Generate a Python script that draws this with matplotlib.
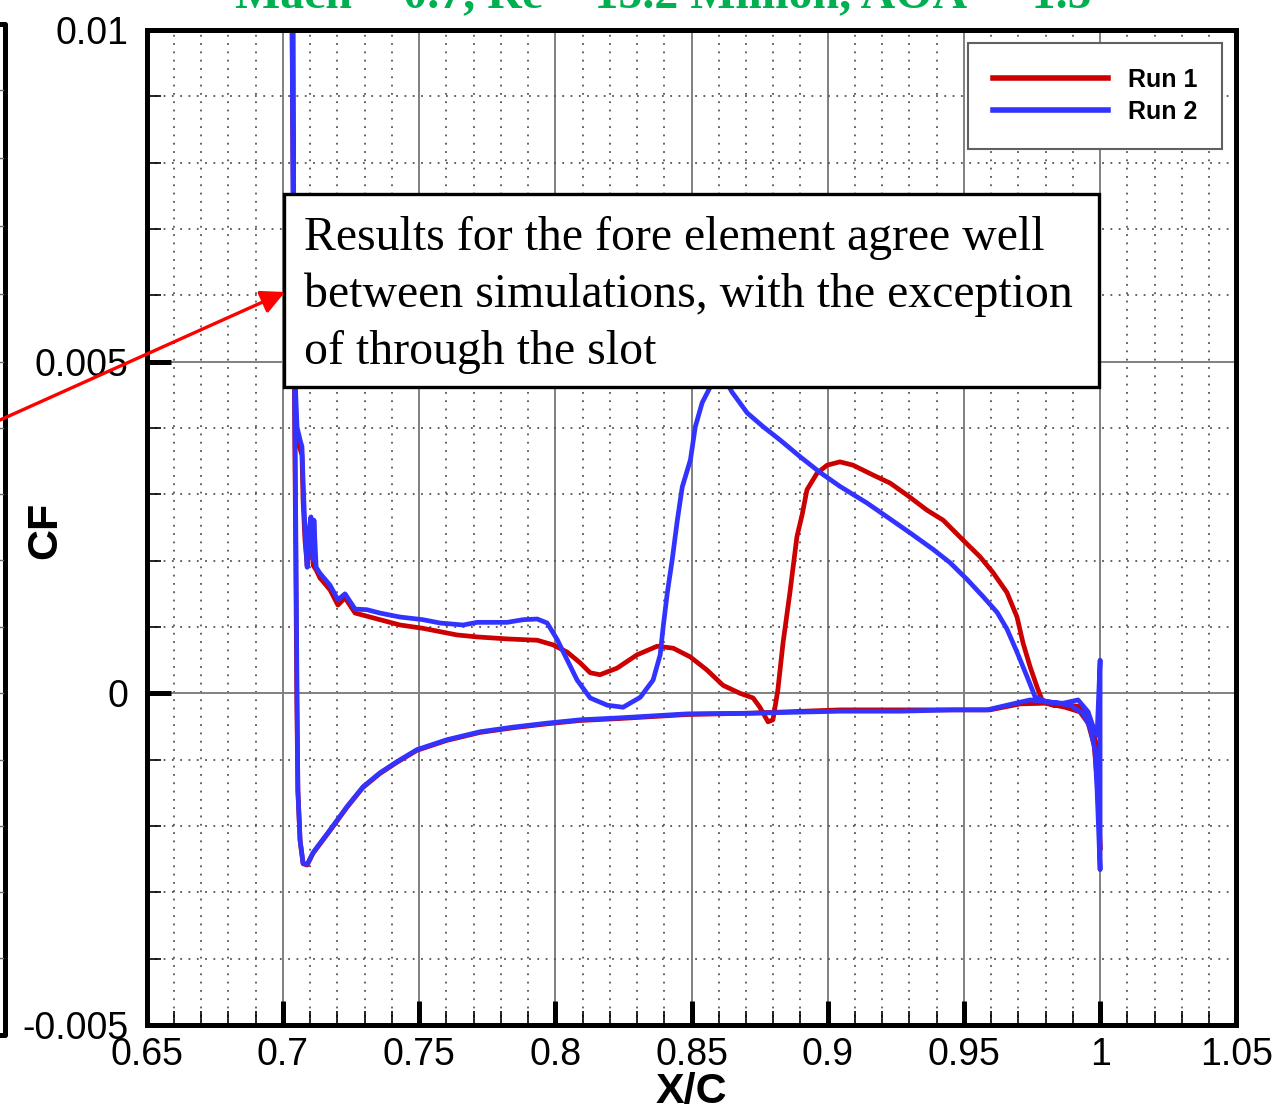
import numpy as np
import matplotlib
matplotlib.use("Agg")
import matplotlib.pyplot as plt
from matplotlib.lines import Line2D
from matplotlib.patches import Rectangle, FancyArrowPatch
from matplotlib.ticker import MultipleLocator

plt.rcParams['font.family'] = 'Liberation Sans'

W, H = 1288, 1111

# Run 1 skin friction, fore element: upper surface LE -> TE, then lower surface TE -> LE
run1_x = [0.7033, 0.7041, 0.7048, 0.7059, 0.7070, 0.7074, 0.7081, 0.7089, 0.7096, 0.7103,
          0.7111, 0.7122, 0.7136, 0.7173, 0.7202, 0.7228, 0.7265, 0.7320, 0.7393, 0.7430,
          0.7514, 0.7639, 0.7713, 0.7823, 0.7934, 0.7992, 0.8044, 0.8091, 0.8128, 0.8164,
          0.8227, 0.8300, 0.8374, 0.8433, 0.8495, 0.8557, 0.8616, 0.8678, 0.8726, 0.8751,
          0.8781, 0.8799, 0.8817, 0.8836, 0.8861, 0.8887, 0.8906, 0.8924, 0.8961, 0.8998,
          0.9045, 0.9093, 0.9167, 0.9229, 0.9291, 0.9365, 0.9424, 0.9497, 0.9559, 0.9607,
          0.9658, 0.9695, 0.9717, 0.9743, 0.9769, 0.9787, 0.9827, 0.9890, 0.9926, 0.9952,
          0.9974, 0.9989, 0.9996, 1.0000,
          0.9996, 0.9989, 0.9978, 0.9956, 0.9926, 0.9871, 0.9798, 0.9706, 0.9596, 0.9449,
          0.9045, 0.8715, 0.8484, 0.8238, 0.8091, 0.7970, 0.7845, 0.7724, 0.7602, 0.7492,
          0.7419, 0.7356, 0.7294, 0.7235, 0.7173, 0.7111, 0.7089, 0.7074, 0.7063, 0.7055,
          0.7051, 0.7047, 0.7043, 0.7040, 0.7036]
run1_y = [0.0105, 0.00593, 0.00401, 0.00374, 0.00359, 0.00291, 0.00231, 0.00193, 0.00223, 0.00253,
          0.00193, 0.00186, 0.00174, 0.00156, 0.00133, 0.00144, 0.00121, 0.00115, 0.00107, 0.00103,
          0.00098, 0.00088, 0.00085, 0.00082, 0.00080, 0.00073, 0.00062, 0.00046, 0.00031, 0.00028,
          0.00038, 0.00058, 0.00071, 0.00068, 0.00055, 0.00035, 0.00012, 0.0, -0.00007, -0.00021,
          -0.00043, -0.00040, 0.00005, 0.00076, 0.00151, 0.00236, 0.00269, 0.00307, 0.00332, 0.00344,
          0.00349, 0.00344, 0.00329, 0.00317, 0.00299, 0.00276, 0.00261, 0.00231, 0.00206, 0.00182,
          0.00152, 0.00115, 0.00076, 0.00040, 0.00009, -0.00010, -0.00018, -0.00018, -0.00020, -0.00030,
          -0.00051, -0.00086, -0.00161, -0.00236,
          -0.00191, -0.00131, -0.00078, -0.00045, -0.00028, -0.00021, -0.00015, -0.00016, -0.00025, -0.00025,
          -0.00025, -0.00030, -0.00032, -0.00038, -0.00041, -0.00046, -0.00052, -0.00059, -0.00071, -0.00086,
          -0.00104, -0.00121, -0.00142, -0.00172, -0.00207, -0.00241, -0.00259, -0.00257, -0.00222, -0.00147,
          -0.00010, 0.00216, 0.00412, 0.00593, 0.0105]

# Run 2 skin friction, same ordering
run2_x = [0.7033, 0.7037, 0.7045, 0.7052, 0.7063, 0.7070, 0.7074, 0.7081, 0.7089, 0.7096,
          0.7103, 0.7111, 0.7114, 0.7122, 0.7136, 0.7173, 0.7202, 0.7228, 0.7265, 0.7309,
          0.7356, 0.7430, 0.7514, 0.7577, 0.7661, 0.7713, 0.7823, 0.7882, 0.7934, 0.7970,
          0.8007, 0.8044, 0.8080, 0.8128, 0.8191, 0.8249, 0.8312, 0.8359, 0.8385, 0.8396,
          0.8411, 0.8429, 0.8448, 0.8466, 0.8496, 0.8514, 0.8539, 0.8569, 0.8598, 0.8624,
          0.8649, 0.8704, 0.8763, 0.8825, 0.8898, 0.8972, 0.9045, 0.9144, 0.9218, 0.9302,
          0.9387, 0.9449, 0.9511, 0.9570, 0.9622, 0.9658, 0.9695, 0.9732, 0.9761, 0.9805,
          0.9864, 0.9919, 0.9956, 0.9974, 0.9989, 1.0000, 1.0000,
          0.9996, 0.9989, 0.9981, 0.9963, 0.9937, 0.9890, 0.9816, 0.9743, 0.9658, 0.9585,
          0.9460, 0.9266, 0.9045, 0.8726, 0.8484, 0.8238, 0.8091, 0.7970, 0.7845, 0.7724,
          0.7602, 0.7492, 0.7419, 0.7356, 0.7294, 0.7235, 0.7173, 0.7111, 0.7089, 0.7074,
          0.7063, 0.7055, 0.7052, 0.7048, 0.7044, 0.7041, 0.7037]
run2_y = [0.0106, 0.00743, 0.00472, 0.00401, 0.00382, 0.00372, 0.00322, 0.00246, 0.00190, 0.00246,
          0.00266, 0.00201, 0.00261, 0.00190, 0.00181, 0.00163, 0.00141, 0.00150, 0.00127, 0.00126,
          0.00121, 0.00115, 0.00111, 0.00106, 0.00103, 0.00107, 0.00107, 0.00111, 0.00112, 0.00106,
          0.00081, 0.00050, 0.00020, -0.00007, -0.00018, -0.00021, -0.00006, 0.00020, 0.00058, 0.00100,
          0.00151, 0.00201, 0.00261, 0.00311, 0.00352, 0.00402, 0.00438, 0.00462, 0.00480, 0.00472,
          0.00454, 0.00423, 0.00402, 0.00382, 0.00357, 0.00333, 0.00312, 0.00287, 0.00266, 0.00242,
          0.00217, 0.00197, 0.00172, 0.00146, 0.00122, 0.00097, 0.00062, 0.00025, -0.00005, -0.00013,
          -0.00015, -0.00010, -0.00028, -0.00050, -0.00063, 0.00050, -0.00266,
          -0.00221, -0.00146, -0.00085, -0.00051, -0.00030, -0.00018, -0.00013, -0.00010, -0.00018, -0.00025,
          -0.00025, -0.00027, -0.00027, -0.00030, -0.00031, -0.00037, -0.00040, -0.00045, -0.00051, -0.00058,
          -0.00070, -0.00085, -0.00103, -0.00120, -0.00141, -0.00171, -0.00206, -0.00240, -0.00258, -0.00256,
          -0.00221, -0.00146, -0.00010, 0.00216, 0.00412, 0.00593, 0.0105]

x_ticks = [0.65, 0.7, 0.75, 0.8, 0.85, 0.9, 0.95, 1.0, 1.05]
x_tick_labels = ['0.65', '0.7', '0.75', '0.8', '0.85', '0.9', '0.95', '1', '1.05']
y_ticks = [-0.005, 0.0, 0.005, 0.01]
y_tick_labels = ['-0.005', '0', '0.005', '0.01']

title = 'Mach = 0.7, Re = 15.2 Million, AOA = -1.5'
note_lines = ['Results for the fore element agree well',
              'between simulations, with the exception',
              'of through the slot']


def fx(px):
    return px / W


def fy(py):
    return 1 - py / H


fig = plt.figure(figsize=(W / 100, H / 100), dpi=100)
ax = fig.add_axes([fx(146.7), fy(1024.9), 1089.6 / W, 994.8 / H])

ax.plot(run1_x, run1_y, color='#CC0000', lw=3.4, label='Run 1', zorder=3,
        solid_joinstyle='round')
ax.plot(run2_x, run2_y, color='#3333FF', lw=3.4, label='Run 2', zorder=4,
        solid_joinstyle='round')

ax.set_xlim(0.65, 1.05)
ax.set_ylim(-0.005, 0.01)
ax.set_xticks(x_ticks)
ax.set_xticklabels(x_tick_labels)
ax.set_yticks(y_ticks)
ax.set_yticklabels(y_tick_labels)
ax.xaxis.set_minor_locator(MultipleLocator(0.01))
ax.yaxis.set_minor_locator(MultipleLocator(0.001))

ax.grid(which='major', color='#808080', lw=1.4, ls='-', zorder=1)
ax.grid(which='minor', color='#555555', lw=1.3, ls=(0, (1, 3.6)), zorder=1)
ax.set_axisbelow(True)

ax.tick_params(which='major', direction='in', length=17, width=3.6, color='black',
               labelsize=27, top=False, right=False)
ax.tick_params(axis='y', which='major', pad=13)
ax.tick_params(axis='x', which='major', pad=9)
ax.tick_params(which='minor', direction='in', length=10, width=1.2, color='black',
               top=False, right=False)
for s in ax.spines.values():
    s.set_linewidth(3.6)
    s.set_zorder(6)

fig.text(fx(691), fy(1092), 'X/C', ha='center', va='center', fontsize=31, fontweight='bold')
fig.text(fx(45), fy(530), 'CF', ha='center', va='center', fontsize=31, fontweight='bold',
         rotation=90)

leg = ax.legend(loc='upper right', bbox_to_anchor=((1222 - 146.7) / 1089.6, 1 - (43 - 30.1) / 994.8),
                borderaxespad=0, fancybox=False, edgecolor='#606060', framealpha=1,
                prop=dict(family='Liberation Sans', weight='bold', size=18),
                handlelength=4.6, handletextpad=0.8, labelspacing=0.3, borderpad=1.0)
leg.get_frame().set_linewidth(1.5)
for h in leg.get_lines():
    h.set_linewidth(4)
leg.set_zorder(7)

# title sits partly above the canvas edge
fig.text(fx(663), fy(7), title, ha='center', va='baseline', fontsize=34.5, fontweight='bold',
         family='Liberation Serif', color='#00B050')

# callout box
fig.patches.append(Rectangle((fx(284), fy(387)), (1099 - 284) / W, (387 - 194) / H,
                             transform=fig.transFigure, facecolor='white',
                             edgecolor='black', lw=2.4, zorder=8))
for i, line in enumerate(note_lines):
    fig.text(fx(304), fy(250 + 57 * i), line, ha='left', va='baseline', fontsize=34.4,
             family='Liberation Serif', zorder=9)

arrow = FancyArrowPatch((fx(-20), fy(429)), (fx(285), fy(292)), transform=fig.transFigure,
                        arrowstyle='-|>,head_length=0.8,head_width=0.4', mutation_scale=18,
                        color='#FF0000', lw=2.4, zorder=10, shrinkA=0, shrinkB=0)
fig.patches.append(arrow)

# edge of the neighbouring panel
fig.lines.append(Line2D([fx(-5), fx(5), fx(5), fx(-5)], [fy(24), fy(24), fy(1035), fy(1035)],
                        transform=fig.transFigure, color='black', lw=3.6,
                        solid_joinstyle='round'))
for py in [90, 158, 226, 294, 362, 428, 494, 560, 627, 693, 760, 826, 892, 958]:
    fig.lines.append(Line2D([fx(0), fx(3)], [fy(py), fy(py)], transform=fig.transFigure,
                            color='#707070', lw=1.0))

fig.savefig('out.png', dpi=100)
